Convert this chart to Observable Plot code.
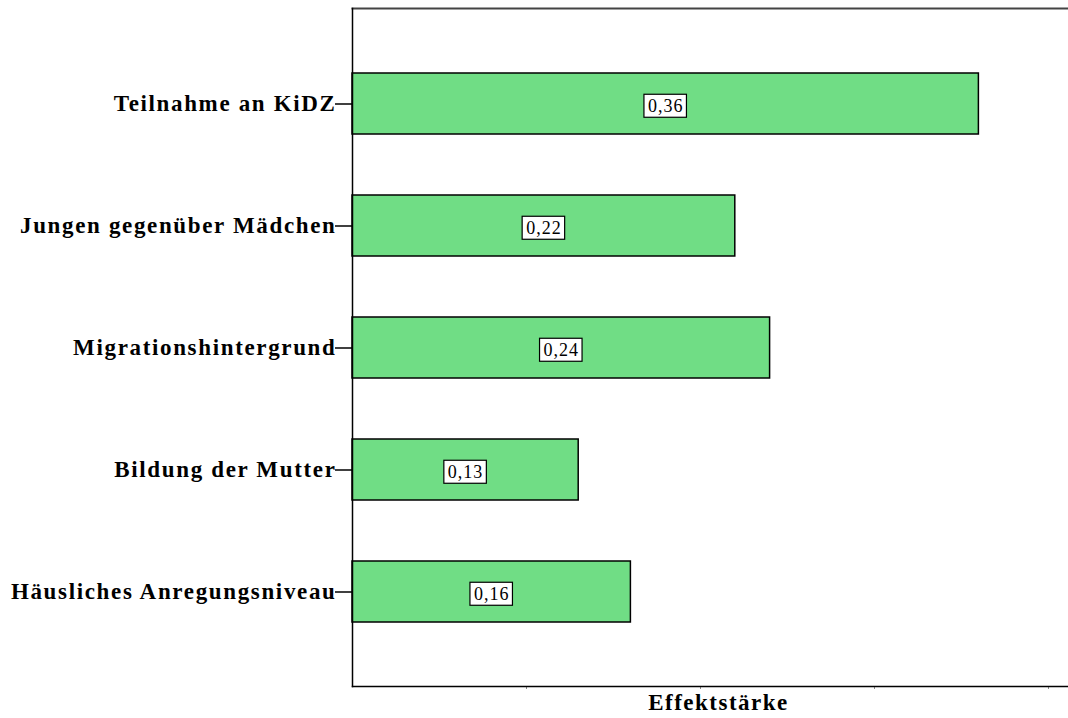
<!DOCTYPE html>
<html>
<head>
<meta charset="utf-8">
<script src="https://cdn.jsdelivr.net/npm/d3@7"></script>
<script src="https://cdn.jsdelivr.net/npm/@observablehq/plot@0.6"></script>
<style>
  html, body { margin: 0; padding: 0; background: #fff; }
  .ylab text { letter-spacing: 1.65px; }
  .xtitle text { letter-spacing: 1.5px; }
  .vlab text { letter-spacing: 1px; }
</style>
</head>
<body>
<div id="chart"></div>
<script>
const categories = ["Teilnahme an KiDZ", "Jungen gegenüber Mädchen", "Migrationshintergrund", "Bildung der Mutter", "Häusliches Anregungsniveau"];
const values = [0.36, 0.22, 0.24, 0.13, 0.16];
const valueLabels = ["0,36", "0,22", "0,24", "0,13", "0,16"];
const xTicks = [0.1, 0.2, 0.3, 0.4];
const xLabel = "Effektstärke";

const data = categories.map((c, i) => ({category: c, value: values[i], label: valueLabels[i]}));
const serif = "'Liberation Serif', 'Times New Roman', serif";

const chart = Plot.plot({
  width: 1068,
  height: 718,
  marginLeft: 352,
  marginRight: 0,
  marginTop: 8,
  marginBottom: 32,
  style: {fontFamily: serif, background: "#fff", color: "#000"},
  x: {domain: [0, 0.4115], range: [352, 1068]},
  y: {domain: categories, paddingInner: 0.5, paddingOuter: 0.52},
  marks: [
    Plot.barX(data, {x: "value", y: "category", fill: "#70dd85", stroke: "#000", strokeWidth: 1.5}),
    Plot.text(data, {x: d => d.value / 2, y: "category", text: "label", fontSize: 18, fontFamily: serif, fill: "#000", dy: 2, className: "vlab"}),
    Plot.frame({anchor: "top", stroke: "#444", strokeWidth: 2}),
    Plot.axisY({tickSize: 17, tickPadding: -1, fontSize: 23, fontWeight: "bold", fontFamily: serif, stroke: "#000", strokeWidth: 1.5, className: "ylab", label: null}),
    Plot.axisX({ticks: xTicks, tickSize: 3, tickFormat: () => "", stroke: "#888", label: null}),
    Plot.frame({anchor: "left", stroke: "#000", strokeWidth: 1.5}),
    Plot.frame({anchor: "bottom", stroke: "#000", strokeWidth: 1.5}),
    Plot.text([xLabel], {frameAnchor: "bottom", dy: 23, dx: 8, fontSize: 23, fontWeight: "bold", fontFamily: serif, fill: "#000", className: "xtitle"})
  ]
});
document.getElementById("chart").appendChild(chart);

// draw boxes behind value labels
d3.select(chart).selectAll("g.vlab text").each(function() {
  const b = this.getBBox();
  const padX = 4, padY = 1.5;
  d3.select(this.parentNode).insert("rect", () => this)
    .attr("x", b.x - padX).attr("y", b.y - padY)
    .attr("width", b.width + 2 * padX - 1).attr("height", b.height + 2 * padY)
    .attr("fill", "#fff").attr("stroke", "#000").attr("stroke-width", 1.2)
    .attr("transform", this.getAttribute("transform"));
});
</script>
</body>
</html>
